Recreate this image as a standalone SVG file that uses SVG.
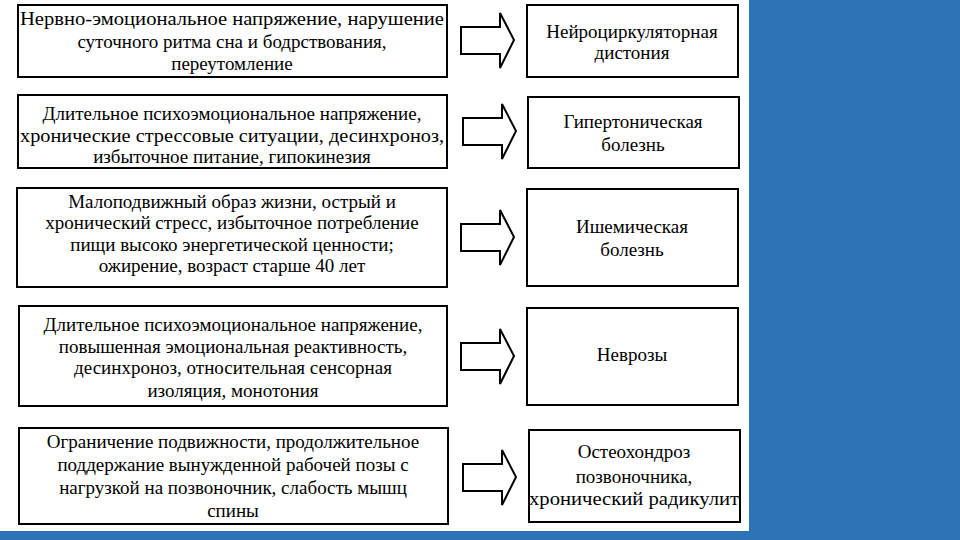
<svg xmlns="http://www.w3.org/2000/svg" width="960" height="540" viewBox="0 0 960 540" font-family="Liberation Serif">
<defs>
<path id="arrowShape" d="M0,-13 H39 V-27 L53,0 L39,28 V14 H0 Z" fill="#fff" stroke="#000" stroke-width="2"/>
</defs>
<rect x="0" y="0" width="960" height="540" fill="#fff"/>
<rect x="749" y="0" width="211" height="540" fill="#2C74B5"/>
<rect x="0" y="531" width="960" height="9" fill="#2C74B5"/>

<g id="cause1">
<rect x="18" y="5" width="429" height="72" fill="#fff" stroke="#000" stroke-width="2"/>
<text style="font-family:'Liberation Serif',serif" font-size="19" text-anchor="middle" x="232" y="25" textLength="424" lengthAdjust="spacingAndGlyphs">Нервно-эмоциональное напряжение, нарушение</text>
<text style="font-family:'Liberation Serif',serif" font-size="19" text-anchor="middle" x="232" y="48">суточного ритма сна и бодрствования,</text>
<text style="font-family:'Liberation Serif',serif" font-size="19" text-anchor="middle" x="232" y="70">переутомление</text>
</g>
<g id="cause2">
<rect x="18" y="95" width="429" height="73" fill="#fff" stroke="#000" stroke-width="2"/>
<text style="font-family:'Liberation Serif',serif" font-size="19" text-anchor="middle" x="232" y="120">Длительное психоэмоциональное напряжение,</text>
<text style="font-family:'Liberation Serif',serif" font-size="19" text-anchor="middle" x="232" y="142" textLength="424" lengthAdjust="spacingAndGlyphs">хронические стрессовые ситуации, десинхроноз,</text>
<text style="font-family:'Liberation Serif',serif" font-size="19" text-anchor="middle" x="232" y="163">избыточное питание, гипокинезия</text>
</g>
<g id="cause3">
<rect x="17" y="188" width="430" height="99" fill="#fff" stroke="#000" stroke-width="2"/>
<text style="font-family:'Liberation Serif',serif" font-size="19" text-anchor="middle" x="232" y="208">Малоподвижный образ жизни, острый и</text>
<text style="font-family:'Liberation Serif',serif" font-size="19" text-anchor="middle" x="232" y="229">хронический стресс, избыточное потребление</text>
<text style="font-family:'Liberation Serif',serif" font-size="19" text-anchor="middle" x="232" y="251">пищи высоко энергетической ценности;</text>
<text style="font-family:'Liberation Serif',serif" font-size="19" text-anchor="middle" x="232" y="272">ожирение, возраст старше 40 лет</text>
</g>
<g id="cause4">
<rect x="19" y="306" width="428" height="100" fill="#fff" stroke="#000" stroke-width="2"/>
<text style="font-family:'Liberation Serif',serif" font-size="19" text-anchor="middle" x="233" y="331">Длительное психоэмоциональное напряжение,</text>
<text style="font-family:'Liberation Serif',serif" font-size="19" text-anchor="middle" x="233" y="353">повышенная эмоциональная реактивность,</text>
<text style="font-family:'Liberation Serif',serif" font-size="19" text-anchor="middle" x="233" y="374">десинхроноз, относительная сенсорная</text>
<text style="font-family:'Liberation Serif',serif" font-size="19" text-anchor="middle" x="233" y="397">изоляция, монотония</text>
</g>
<g id="cause5">
<rect x="19" y="428" width="429" height="96" fill="#fff" stroke="#000" stroke-width="2"/>
<text style="font-family:'Liberation Serif',serif" font-size="19" text-anchor="middle" x="233" y="448">Ограничение подвижности, продолжительное</text>
<text style="font-family:'Liberation Serif',serif" font-size="19" text-anchor="middle" x="233" y="471">поддержание вынужденной рабочей позы с</text>
<text style="font-family:'Liberation Serif',serif" font-size="19" text-anchor="middle" x="233" y="494">нагрузкой на позвоночник, слабость мышц</text>
<text style="font-family:'Liberation Serif',serif" font-size="19" text-anchor="middle" x="233" y="517">спины</text>
</g>

<g id="result1">
<rect x="527" y="5" width="211" height="72" fill="#fff" stroke="#000" stroke-width="2"/>
<text style="font-family:'Liberation Serif',serif" font-size="19" text-anchor="middle" x="632" y="38">Нейроциркуляторная</text>
<text style="font-family:'Liberation Serif',serif" font-size="19" text-anchor="middle" x="632" y="59">дистония</text>
</g>
<g id="result2">
<rect x="528" y="97" width="211" height="71" fill="#fff" stroke="#000" stroke-width="2"/>
<text style="font-family:'Liberation Serif',serif" font-size="19" text-anchor="middle" x="633" y="128">Гипертоническая</text>
<text style="font-family:'Liberation Serif',serif" font-size="19" text-anchor="middle" x="633" y="151">болезнь</text>
</g>
<g id="result3">
<rect x="527" y="189" width="211" height="97" fill="#fff" stroke="#000" stroke-width="2"/>
<text style="font-family:'Liberation Serif',serif" font-size="19" text-anchor="middle" x="632" y="233">Ишемическая</text>
<text style="font-family:'Liberation Serif',serif" font-size="19" text-anchor="middle" x="632" y="256">болезнь</text>
</g>
<g id="result4">
<rect x="527" y="308" width="211" height="97" fill="#fff" stroke="#000" stroke-width="2"/>
<text style="font-family:'Liberation Serif',serif" font-size="19" text-anchor="middle" x="632" y="361">Неврозы</text>
</g>
<g id="result5">
<rect x="529" y="430" width="211" height="92" fill="#fff" stroke="#000" stroke-width="2"/>
<text style="font-family:'Liberation Serif',serif" font-size="19" text-anchor="middle" x="634" y="458">Остеохондроз</text>
<text style="font-family:'Liberation Serif',serif" font-size="19" text-anchor="middle" x="634" y="483">позвоночника,</text>
<text style="font-family:'Liberation Serif',serif" font-size="19" text-anchor="middle" x="634" y="505" textLength="210" lengthAdjust="spacingAndGlyphs">хронический радикулит</text>
</g>

<g id="connectors">
<use href="#arrowShape" x="461" y="40"/>
<use href="#arrowShape" x="463" y="131"/>
<use href="#arrowShape" x="461" y="237"/>
<use href="#arrowShape" x="461" y="356"/>
<use href="#arrowShape" x="463" y="477"/>
</g>
</svg>
